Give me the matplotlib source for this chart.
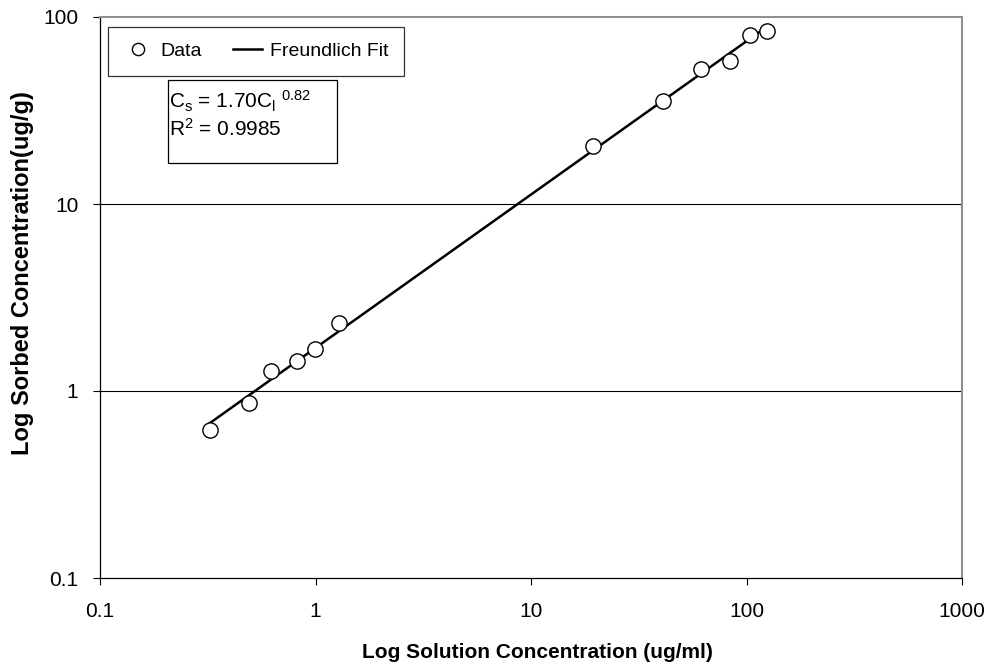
import matplotlib
matplotlib.use('Agg')
import matplotlib.pyplot as plt
from matplotlib.patches import Rectangle
import numpy as np

plt.rcParams['font.family'] = ['Liberation Sans', 'DejaVu Sans']
plt.rcParams['mathtext.fontset'] = 'custom'
plt.rcParams['mathtext.rm'] = 'Liberation Sans'
plt.rcParams['mathtext.it'] = 'Liberation Sans'

# solution concentration (ug/ml) and sorbed concentration (ug/g)
sol_conc = [0.323, 0.490, 0.619, 0.825, 0.99, 1.28, 19.4, 40.8, 61.2, 83.4, 104, 124]
sorb_conc = [0.619, 0.863, 1.28, 1.45, 1.68, 2.31, 20.4, 35.6, 52.7, 58.2, 80.2, 84.0]

# Freundlich fit Cs = K * Cl^n
K_f = 1.70
n_f = 0.82
r2 = 0.9985

x_ticks = [0.1, 1, 10, 100, 1000]
x_labels = ['0.1', '1', '10', '100', '1000']
y_ticks = [0.1, 1, 10, 100]
y_labels = ['0.1', '1', '10', '100']

fig = plt.figure(figsize=(9.85, 6.65), dpi=100)
ax = fig.add_axes([100 / 985, 1 - 578 / 665, 862 / 985, 561 / 665])

ax.set_xscale('log')
ax.set_yscale('log')
ax.set_xlim(0.1, 1000)
ax.set_ylim(0.1, 100)

# horizontal gridlines only
for yv in y_ticks[1:-1]:
    ax.axhline(yv, color='black', lw=0.8, zorder=1)

fit_x = np.geomspace(min(sol_conc), max(sol_conc), 50)
ax.plot(sol_conc, sorb_conc, 'o', mfc='white', mec='black', ms=11, mew=1.0,
        ls='none', label='Data', zorder=3)
ax.plot(fit_x, K_f * fit_x ** n_f, color='black', lw=1.8, label='Freundlich Fit', zorder=2)

ax.set_xticks(x_ticks)
ax.set_xticklabels(x_labels)
ax.set_yticks(y_ticks)
ax.set_yticklabels(y_labels)
ax.minorticks_off()
ax.tick_params(direction='out', length=5, width=0.8, labelsize=15, pad=10.5, colors='black')
ax.tick_params(axis='x', pad=12)

ax.spines['top'].set_color('#909090')
ax.spines['right'].set_color('#909090')
ax.spines['top'].set_linewidth(1.5)
ax.spines['right'].set_linewidth(1.5)
ax.spines['left'].set_linewidth(0.9)
ax.spines['bottom'].set_linewidth(0.9)

ax.set_xlabel('Log Solution Concentration (ug/ml)', fontsize=15, fontweight='bold', labelpad=16)
ax.set_ylabel('Log Sorbed Concentration(ug/g)', fontsize=17, fontweight='bold', labelpad=7)
ax.xaxis.label.set_x(0.508)
ax.yaxis.label.set_y(0.543)

leg = ax.legend(loc='upper left', bbox_to_anchor=(0.0093, 0.982), ncol=2, fontsize=14,
                frameon=True, fancybox=False, edgecolor='black', borderaxespad=0,
                handlelength=1.5, columnspacing=1.6, handletextpad=0.4, borderpad=0.8,
                markerscale=0.8)
leg.get_frame().set_linewidth(0.9)

# equation box
ax.add_patch(Rectangle((0.0789, 0.7398), 0.275 - 0.0789, 0.8877 - 0.7398,
                       transform=ax.transAxes, fill=True, facecolor='white',
                       edgecolor='black', lw=0.9, zorder=4))
ax.text(0.080, 0.850, r'$\mathregular{C_s}$ = 1.70$\mathregular{C_l}$ $\mathregular{^{0.82}}$',
        transform=ax.transAxes, fontsize=15, va='center', ha='left', zorder=5)
ax.text(0.080, 0.800, r'R$\mathregular{^{2}}$ = ' + f'{r2:.4f}',
        transform=ax.transAxes, fontsize=15, va='center', ha='left', zorder=5)

fig.savefig('out.png', dpi=100)
